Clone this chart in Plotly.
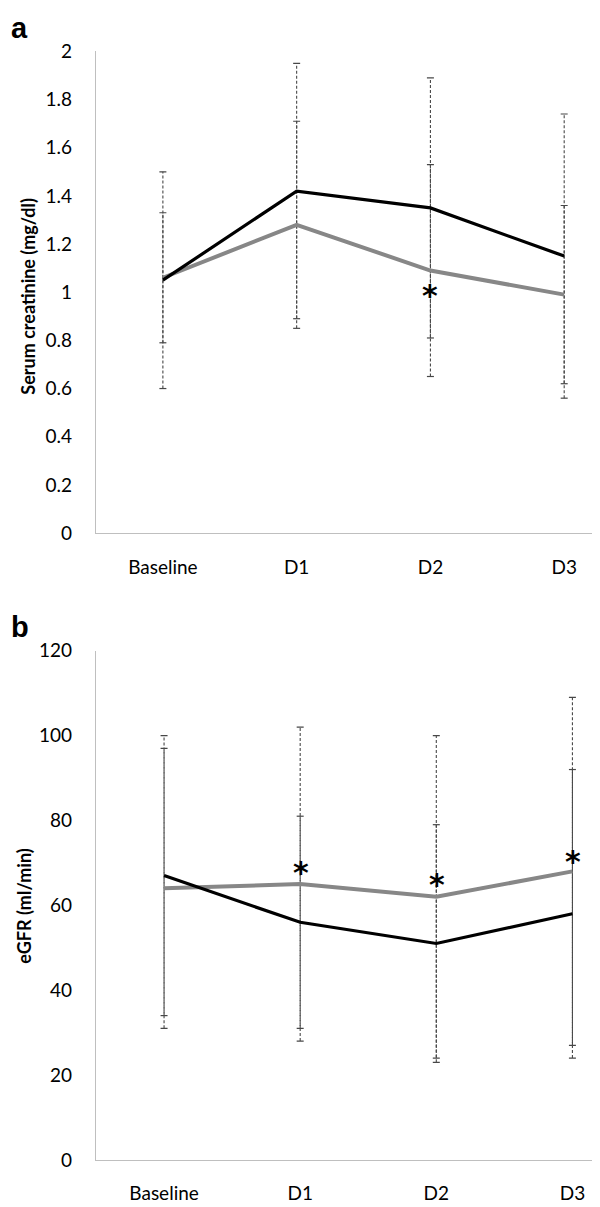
import plotly.graph_objects as go

categories = ["Baseline", "D1", "D2", "D3"]

# Panel a: serum creatinine (mg/dl)
creat_black = [1.05, 1.42, 1.35, 1.15]
creat_black_err = [0.45, 0.53, 0.54, 0.59]
creat_gray = [1.06, 1.28, 1.09, 0.99]
creat_gray_err = [0.27, 0.43, 0.44, 0.37]
creat_star_cat = ["D2"]
creat_star_y = [1.02]
creat_ticks = [0, 0.2, 0.4, 0.6, 0.8, 1, 1.2, 1.4, 1.6, 1.8, 2]

# Panel b: eGFR (ml/min)
egfr_black = [67, 56, 51, 58]
egfr_black_err = [33, 25, 28, 34]
egfr_gray = [64, 65, 62, 68]
egfr_gray_err = [33, 37, 38, 41]
egfr_star_cat = ["D1", "D2", "D3"]
egfr_star_y = [69.6, 66.8, 72.1]
egfr_ticks = [0, 20, 40, 60, 80, 100, 120]

W, H = 600, 1207
FONT = "Lato, 'Open Sans', sans-serif"

fig = go.Figure()


def add_errbars(mean, err, xa, ya):
    xs, ys, cx, cy = [], [], [], []
    for c, m, e in zip(categories, mean, err):
        xs += [c, c, None]
        ys += [m - e, m + e, None]
        cx += [c, c]
        cy += [m - e, m + e]
    fig.add_trace(go.Scatter(x=xs, y=ys, mode="lines", xaxis=xa, yaxis=ya,
                             line=dict(color="#474747", width=1.1, dash="3px,2px"),
                             showlegend=False, hoverinfo="skip"))
    fig.add_trace(go.Scatter(x=cx, y=cy, mode="markers", xaxis=xa, yaxis=ya,
                             marker=dict(symbol="line-ew", size=5,
                                         line=dict(color="#474747", width=1.2)),
                             showlegend=False, hoverinfo="skip"))


def add_panel(black, black_err, gray, gray_err, xa, ya):
    add_errbars(black, black_err, xa, ya)
    add_errbars(gray, gray_err, xa, ya)
    fig.add_trace(go.Scatter(x=categories, y=gray, mode="lines", xaxis=xa, yaxis=ya,
                             line=dict(color="#878787", width=4), showlegend=False))
    fig.add_trace(go.Scatter(x=categories, y=black, mode="lines", xaxis=xa, yaxis=ya,
                             line=dict(color="#000000", width=3.2), showlegend=False))


add_panel(creat_black, creat_black_err, creat_gray, creat_gray_err, "x", "y")
add_panel(egfr_black, egfr_black_err, egfr_gray, egfr_gray_err, "x2", "y2")

# asterisks (significance marks)
STAR_FONT = dict(family="DejaVu Sans", size=30, color="black")
for c, yv in zip(creat_star_cat, creat_star_y):
    fig.add_annotation(x=c, y=yv, xref="x", yref="y", text="<b>*</b>", showarrow=False,
                       xanchor="center", yanchor="middle", yshift=-8, font=STAR_FONT)
for c, yv in zip(egfr_star_cat, egfr_star_y):
    fig.add_annotation(x=c, y=yv, xref="x2", yref="y2", text="<b>*</b>", showarrow=False,
                       xanchor="center", yanchor="middle", xshift=1, yshift=-8,
                       font=STAR_FONT)

axis_common = dict(showline=True, linecolor="#bfbfbf", linewidth=1.3,
                   showgrid=False, zeroline=False, ticks="",
                   tickfont=dict(family=FONT, size=19, color="black"))

fig.update_layout(
    width=W, height=H, margin=dict(l=0, r=0, t=0, b=0),
    paper_bgcolor="white", plot_bgcolor="white",
    xaxis=dict(axis_common, type="category", categoryorder="array",
               categoryarray=categories, range=[-0.5, 3.32],
               domain=[88 / W, 599 / W], anchor="y", ticklabelstandoff=17),
    yaxis=dict(axis_common, range=[0, 2], tickvals=creat_ticks,
               ticktext=[f"{t:g}" for t in creat_ticks],
               domain=[1 - 523 / H, 1 - 32 / H], anchor="x", ticklabelstandoff=19),
    xaxis2=dict(axis_common, type="category", categoryorder="array",
                categoryarray=categories, range=[-0.5, 3.21],
                domain=[88 / W, 593 / W], anchor="y2", ticklabelstandoff=16),
    yaxis2=dict(axis_common, range=[0, 120], tickvals=egfr_ticks,
                domain=[1 - 1162 / H, 1 - 643 / H], anchor="x2", ticklabelstandoff=19),
)

# axis titles and panel letters
TITLE_FONT = dict(family=FONT, size=18, color="black")
fig.add_annotation(x=20 / W, y=1 - 282 / H, xref="paper", yref="paper",
                   xanchor="center", yanchor="middle",
                   text="<b>Serum creatinine (mg/dl)</b>", textangle=-90, showarrow=False,
                   font=TITLE_FONT)
fig.add_annotation(x=16 / W, y=1 - 903 / H, xref="paper", yref="paper",
                   xanchor="center", yanchor="middle",
                   text="<b>eGFR (ml/min)</b>", textangle=-90, showarrow=False,
                   font=TITLE_FONT)
LETTER_FONT = dict(family="Liberation Sans", size=29, color="black")
fig.add_annotation(x=11 / W, y=1 - 8 / H, xref="paper", yref="paper",
                   xanchor="center", yanchor="middle",
                   text="<b>a</b>", showarrow=False, font=LETTER_FONT)
fig.add_annotation(x=12 / W, y=1 - 619 / H, xref="paper", yref="paper",
                   xanchor="center", yanchor="middle",
                   text="<b>b</b>", showarrow=False, font=LETTER_FONT)

fig.write_html("out.html")
